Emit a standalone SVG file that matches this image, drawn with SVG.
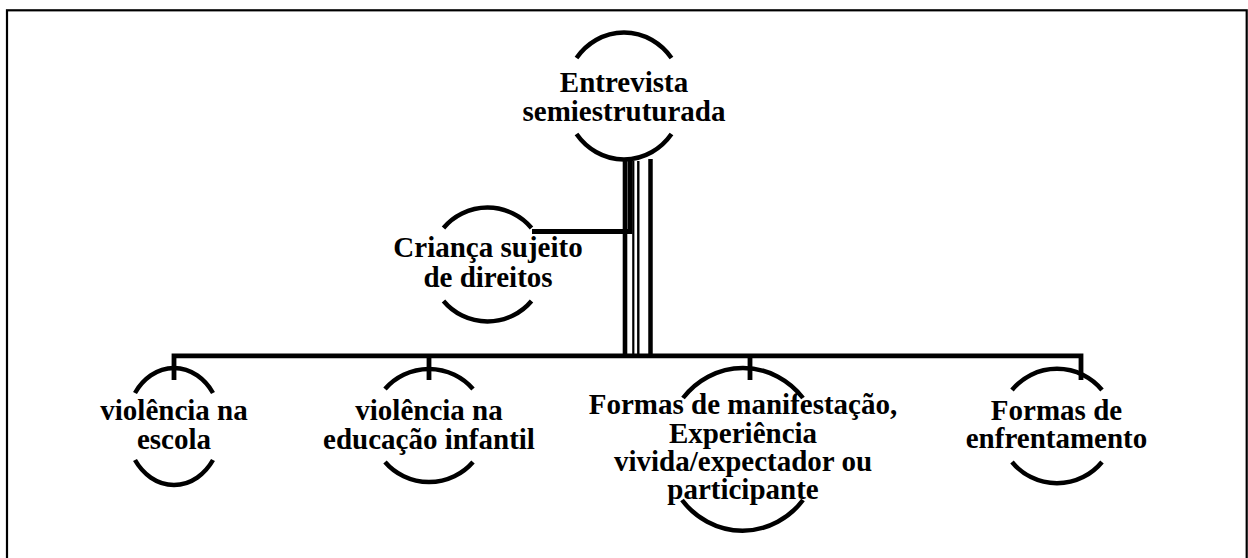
<svg xmlns="http://www.w3.org/2000/svg" width="1248" height="558" viewBox="0 0 1248 558">
<style>
.lbl{font-family:'Liberation Serif','Times New Roman',serif;font-weight:bold;font-size:29px;fill:#000;text-anchor:middle}
.arc{fill:none;stroke:#000;stroke-width:4.5}
.cn{fill:none;stroke:#000;stroke-linejoin:miter}
</style>
<rect x="0" y="0" width="1248" height="558" fill="#fff"/>
<rect x="7" y="10.3" width="1239.7" height="570" fill="none" stroke="#000" stroke-width="2.2"/>
<g id="connectors">
<path class="cn" stroke-width="4.8" d="M174,380 V355.8 H1081 V380"/>
<path class="cn" stroke-width="4.8" d="M429,355.8 V380"/>
<path class="cn" stroke-width="4.8" d="M750,355.8 V380"/>
<path class="cn" stroke-width="4.6" d="M625,161 V356"/>
<path class="cn" stroke-width="5" d="M630,161 V231.5 H532"/>
<path class="cn" stroke-width="2.2" d="M633.3,161 V356"/>
<path class="cn" stroke-width="2.4" d="M638.3,161 V356"/>
<path class="cn" stroke-width="4.5" d="M650.5,159 V356"/>
</g>
<g id="node-entrevista">
<path class="arc" d="M576.5,58 A59.3,63.5 0 0 1 671.5,58"/>
<path class="arc" d="M576.5,134 A59.3,63.5 0 0 0 671.5,134"/>
<text class="lbl" x="624" y="92">Entrevista</text>
<text class="lbl" x="624" y="121">semiestruturada</text>
</g>
<g id="node-crianca">
<path class="arc" d="M443.5,228 A57,56 0 0 1 531.5,228"/>
<path class="arc" d="M443.5,301 A57,56 0 0 0 531.5,301"/>
<text class="lbl" x="488" y="257">Criança sujeito</text>
<text class="lbl" x="488" y="286.5">de direitos</text>
</g>
<g id="node-escola">
<path class="arc" d="M135,393 A47.6,58.5 0 0 1 213,393"/>
<path class="arc" d="M135,460 A47.6,58.5 0 0 0 213,460"/>
<text class="lbl" x="174" y="420">violência na</text>
<text class="lbl" x="174" y="449">escola</text>
</g>
<g id="node-educacao-infantil">
<path class="arc" d="M385,389 A57.6,56.5 0 0 1 473,389"/>
<path class="arc" d="M385,462 A57.6,56.5 0 0 0 473,462"/>
<text class="lbl" x="429" y="420">violência na</text>
<text class="lbl" x="429" y="449">educação infantil</text>
</g>
<g id="node-formas-manifestacao">
<path class="arc" d="M683,398 A77.2,81 0 0 1 803,398"/>
<path class="arc" d="M682,500 A77.2,81 0 0 0 803,500"/>
<text class="lbl" x="743" y="414">Formas de manifestação,</text>
<text class="lbl" x="743" y="442.5">Experiência</text>
<text class="lbl" x="743" y="470.5">vivida/expectador ou</text>
<text class="lbl" x="743" y="499">participante</text>
</g>
<g id="node-enfrentamento">
<path class="arc" d="M1012,390 A57.9,57.2 0 0 1 1102,390"/>
<path class="arc" d="M1012,462 A57.9,57.2 0 0 0 1102,462"/>
<text class="lbl" x="1056.5" y="420">Formas de</text>
<text class="lbl" x="1056.5" y="448">enfrentamento</text>
</g>
</svg>
